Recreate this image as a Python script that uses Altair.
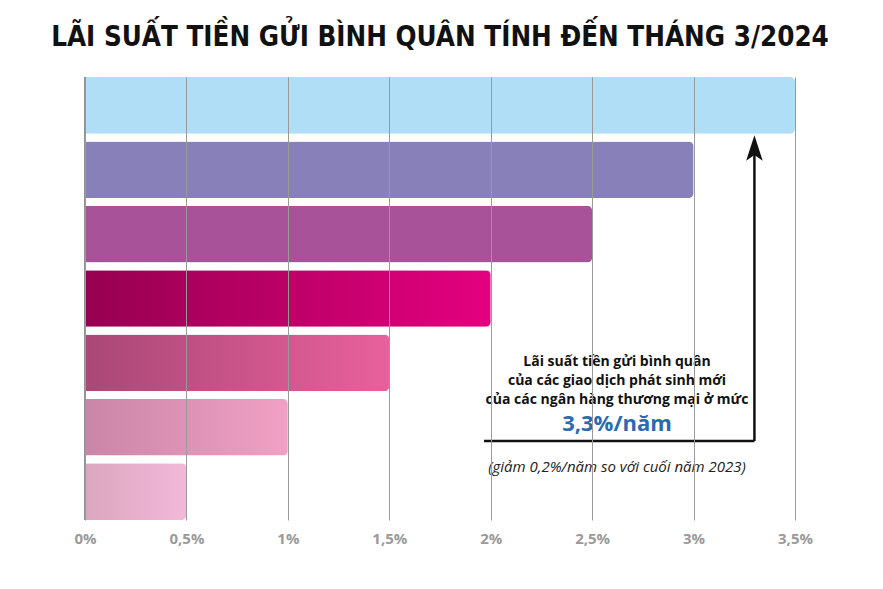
import altair as alt
import pandas as pd

# ---- data ----
bar_ids = ["b1", "b2", "b3", "b4", "b5", "b6", "b7"]
bar_values = [3.5, 3.0, 2.5, 2.0, 1.5, 1.0, 0.5]
bar_start_colors = ["#B0DEF6", "#8880B9", "#A8529A", "#960050", "#AA4877", "#CA86A7", "#DBA6BF"]
bar_end_colors = ["#B0DEF6", "#8880B9", "#A8529A", "#E4007F", "#E8609B", "#F0A0C4", "#F2B8D8"]
tick_values = [0, 0.5, 1, 1.5, 2, 2.5, 3, 3.5]

title_text = "LÃI SUẤT TIỀN GỬI BÌNH QUÂN TÍNH ĐẾN THÁNG 3/2024"
note_lines = [
    "Lãi suất tiền gửi bình quân",
    "của các giao dịch phát sinh mới",
    "của các ngân hàng thương mại ở mức",
]
highlight_text = "3,3%/năm"
highlight_value = 3.3
footnote_text = "(giảm 0,2%/năm so với cuối năm 2023)"

df = pd.DataFrame({"id": bar_ids, "value": bar_values})

W, H = 710, 443

x_scale = alt.Scale(domain=[0, 3.5], nice=False, zero=True)
y_scale = alt.Scale(domain=bar_ids, paddingInner=0.12, paddingOuter=0.0)

x_axis = alt.Axis(
    values=tick_values,
    labelExpr="replace(format(datum.value, '.1~f'), '.', ',') + '%'",
    title=None,
    grid=True,
    gridColor="#9a9a9a",
    gridWidth=1,
    domain=False,
    ticks=False,
    labelColor="#9a9a9a",
    labelFont="Open Sans",
    labelFontWeight="bold",
    labelFontSize=15,
    labelPadding=11,
    labelFlush=False,
    zindex=1,
)

layers = []
for i, bid in enumerate(bar_ids):
    grad = alt.Gradient(
        gradient="linear",
        stops=[
            alt.GradientStop(color=bar_start_colors[i], offset=0),
            alt.GradientStop(color=bar_end_colors[i], offset=1),
        ],
        x1=0, x2=1, y1=0, y2=0,
    )
    layer = (
        alt.Chart(df)
        .transform_filter(alt.datum.id == bid)
        .mark_bar(color=grad, cornerRadiusEnd=5)
        .encode(
            x=alt.X("value:Q", scale=x_scale, axis=x_axis),
            y=alt.Y("id:N", scale=y_scale, axis=None),
        )
    )
    layers.append(layer)

# left axis line
left_line = alt.Chart(pd.DataFrame({"v": [0]})).mark_rule(color="#6e6e6e", strokeWidth=1.5).encode(
    x=alt.X("v:Q", scale=x_scale, axis=x_axis), y=alt.value(0), y2=alt.value(H)
)

# annotation: horizontal line and arrow
ann_y = 364
hline = alt.Chart(pd.DataFrame({"v": [highlight_value]})).mark_rule(color="#111", strokeWidth=2.5).encode(
    x=alt.X("v:Q", scale=x_scale, axis=x_axis), x2=alt.value(399), y=alt.value(ann_y)
)
vline = alt.Chart(pd.DataFrame({"v": [highlight_value]})).mark_rule(color="#111", strokeWidth=2.5).encode(
    x=alt.X("v:Q", scale=x_scale, axis=x_axis), y=alt.value(ann_y), y2=alt.value(78)
)
arrow_head = alt.Chart(pd.DataFrame({"v": [highlight_value]})).mark_point(
    shape="M0,-1 L0.65,1 L0,0.55 L-0.65,1 Z", filled=True, color="#111", size=650, opacity=1
).encode(x=alt.X("v:Q", scale=x_scale, axis=x_axis), y=alt.value(71))

note_df = pd.DataFrame({"t": note_lines, "yy": [285, 304, 323]})
note = alt.Chart(note_df).mark_text(
    font="Open Sans", fontWeight="bold", fontSize=14, color="#111", align="center", baseline="middle"
).encode(text="t:N", x=alt.value(532), y=alt.Y("yy:Q", scale=None))

hl = alt.Chart(pd.DataFrame({"t": [highlight_text]})).mark_text(
    font="Open Sans", fontWeight="bold", fontSize=22, color="#2A6AB3", align="center", baseline="middle"
).encode(text="t:N", x=alt.value(532), y=alt.value(347))

foot = alt.Chart(pd.DataFrame({"t": [footnote_text]})).mark_text(
    font="Open Sans", fontStyle="italic", fontWeight="normal", fontSize=15, color="#222", align="center", baseline="middle"
).encode(text="t:N", x=alt.value(532), y=alt.value(390))

chart = (
    alt.layer(*layers, left_line, hline, vline, arrow_head, note, hl, foot)
    .properties(
        width=W,
        height=H,
        title=alt.TitleParams(
            text=title_text,
            font="DejaVu Sans Condensed, Roboto Condensed, Roboto",
            fontSize=27.5,
            fontWeight="bold",
            color="#111",
            anchor="middle",
            offset=25,
        ),
        autosize=alt.AutoSizeParams(type="none"),
        padding={"left": 85, "top": 77, "right": 88, "bottom": 69},
        background="white",
    )
    .configure_view(stroke=None)
)

chart.save("out.html", embed_options={"renderer": "svg", "actions": False})
